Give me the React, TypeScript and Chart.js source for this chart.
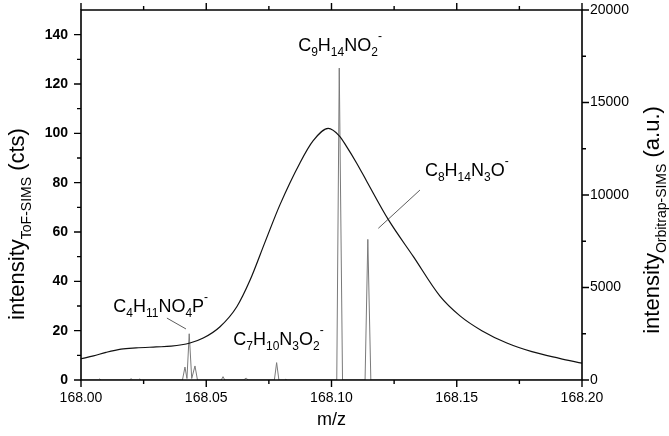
import React, { useEffect, useRef } from 'react';
import { Chart, registerables } from 'chart.js';
Chart.register(...registerables);

// ToF-SIMS broad peak (left axis, cts)
const TOF_MZ = [168.000, 168.005, 168.010, 168.016, 168.022, 168.030, 168.036, 168.0435, 168.0488, 168.0555, 168.0622, 168.0675, 168.0735, 168.0794, 168.0874, 168.0927, 168.0987, 168.1031, 168.1061, 168.1100, 168.1141, 168.1227, 168.1327, 168.1433, 168.1513, 168.160, 168.170, 168.180, 168.191, 168.200];
const TOF_INT = [8.6, 9.8, 11.2, 12.5, 13.0, 13.4, 13.7, 15.0, 17.0, 21.6, 29.7, 40.5, 56, 71, 88, 97, 102, 99, 94.5, 88, 80.5, 65, 50, 34, 26, 20, 15, 11.5, 8.8, 6.8];

// Orbitrap-SIMS spectrum (right axis, a.u.)
const ORB_MZ = [168.000, 168.0070, 168.0075, 168.0080, 168.0195, 168.0200, 168.0205, 168.0230, 168.0235, 168.0240,
  168.0405, 168.0415, 168.0423, 168.0432, 168.0442, 168.0455, 168.0465,
  168.0560, 168.0567, 168.0574, 168.0650, 168.0655, 168.0661, 168.0667,
  168.0772, 168.0781, 168.0790, 168.0814, 168.0818, 168.0822,
  168.1021, 168.1031, 168.1044, 168.1134, 168.1145, 168.1157, 168.200];
const ORB_INT = [0, 0, 60, 0, 0, 80, 0, 0, 60, 0,
  0, 700, 80, 2500, 80, 760, 0,
  0, 180, 0, 0, 80, 90, 0,
  0, 940, 0, 0, 50, 0,
  0, 16860, 0, 0, 7600, 0, 0];

// leader lines (left-axis units)
const LEAD_C4_MZ = [168.0343, 168.0419];
const LEAD_C4_INT = [25.1, 20.7];
const LEAD_C8_MZ = [168.1353, 168.1187];
const LEAD_C8_INT = [77, 61.5];

const X_TICKS = [168.0, 168.05, 168.1, 168.15, 168.2];
const X_MINOR = [168.025, 168.075, 168.125, 168.175];
const Y_TICKS = [0, 20, 40, 60, 80, 100, 120, 140];
const Y_MINOR = [10, 30, 50, 70, 90, 110, 130];
const Y2_TICKS = [0, 5000, 10000, 15000, 20000];
const Y2_MINOR = [2500, 7500, 12500, 17500];

type Part = [string, number]; // 0 normal, -1 sub, 1 sup
const LABELS: { parts: Part[]; mz: number; val: number }[] = [
  { parts: [['C', 0], ['9', -1], ['H', 0], ['14', -1], ['NO', 0], ['2', -1], ['-', 1]], mz: 168.0867, val: 133.5 },
  { parts: [['C', 0], ['8', -1], ['H', 0], ['14', -1], ['N', 0], ['3', -1], ['O', 0], ['-', 1]], mz: 168.1373, val: 82.7 },
  { parts: [['C', 0], ['4', -1], ['H', 0], ['11', -1], ['NO', 0], ['4', -1], ['P', 0], ['-', 1]], mz: 168.0129, val: 27.7 },
  { parts: [['C', 0], ['7', -1], ['H', 0], ['10', -1], ['N', 0], ['3', -1], ['O', 0], ['2', -1], ['-', 1]], mz: 168.0608, val: 14.2 },
];
const LEFT_TITLE: Part[] = [['intensity', 0], ['ToF-SIMS', -1], [' (cts)', 0]];
const RIGHT_TITLE: Part[] = [['intensity', 0], ['Orbitrap-SIMS', -1], [' (a.u.)', 0]];
const X_TITLE = 'm/z';

const FONT = '"Liberation Sans", Arial, sans-serif';

function measureParts(ctx: CanvasRenderingContext2D, parts: Part[], size: number, sub: number) {
  let w = 0;
  for (const [t, k] of parts) {
    ctx.font = `${k === 0 ? size : sub}px ${FONT}`;
    w += ctx.measureText(t).width;
  }
  return w;
}
function drawParts(ctx: CanvasRenderingContext2D, parts: Part[], x: number, y: number, size: number, sub: number) {
  let cx = x;
  ctx.textBaseline = 'alphabetic';
  ctx.textAlign = 'left';
  for (const [t, k] of parts) {
    ctx.font = `${k === 0 ? size : sub}px ${FONT}`;
    const dy = k === -1 ? size * 0.3 : k === 1 ? -size * 0.62 : 0;
    ctx.fillText(t, cx, y + dy);
    cx += ctx.measureText(t).width;
  }
}

const framePlugin = {
  id: 'frame',
  afterDraw(chart: any) {
    const { ctx, chartArea: a, scales } = chart;
    const x = scales.x, y = scales.y, y2 = scales.y2;
    ctx.save();
    ctx.strokeStyle = '#000';
    ctx.lineWidth = 1.6;
    ctx.beginPath();
    ctx.rect(a.left, a.top, a.right - a.left, a.bottom - a.top);
    ctx.stroke();
    const MAJ = 7, MIN = 4;
    ctx.lineWidth = 1.4;
    ctx.beginPath();
    const xt = (v: number, L: number) => {
      const p = x.getPixelForValue(v);
      ctx.moveTo(p, a.bottom); ctx.lineTo(p, a.bottom + L);
      ctx.moveTo(p, a.top); ctx.lineTo(p, a.top - L);
    };
    X_TICKS.forEach(v => xt(v, MAJ));
    X_MINOR.forEach(v => xt(v, MIN));
    const yt = (v: number, L: number) => {
      const p = y.getPixelForValue(v);
      ctx.moveTo(a.left, p); ctx.lineTo(a.left - L, p);
    };
    Y_TICKS.forEach(v => yt(v, MAJ));
    Y_MINOR.forEach(v => yt(v, MIN));
    const y2t = (v: number, L: number) => {
      const p = y2.getPixelForValue(v);
      ctx.moveTo(a.right, p); ctx.lineTo(a.right + L, p);
    };
    Y2_TICKS.forEach(v => y2t(v, MAJ));
    Y2_MINOR.forEach(v => y2t(v, MIN));
    ctx.stroke();

    ctx.fillStyle = '#000';
    for (const l of LABELS) {
      drawParts(ctx, l.parts, x.getPixelForValue(l.mz), y.getPixelForValue(l.val), 18, 12);
    }
    // titles
    const TS = 22, TSS = 14;
    let w = measureParts(ctx, LEFT_TITLE, TS, TSS);
    ctx.save();
    ctx.translate(24, 224);
    ctx.rotate(-Math.PI / 2);
    drawParts(ctx, LEFT_TITLE, -w / 2, 0, TS, TSS);
    ctx.restore();
    w = measureParts(ctx, RIGHT_TITLE, TS, TSS);
    ctx.save();
    ctx.translate(659, 220);
    ctx.rotate(-Math.PI / 2);
    drawParts(ctx, RIGHT_TITLE, -w / 2, 0, TS, TSS);
    ctx.restore();
    ctx.font = `18px ${FONT}`;
    ctx.textAlign = 'center';
    ctx.textBaseline = 'alphabetic';
    ctx.fillText(X_TITLE, (a.left + a.right) / 2, 425);
    ctx.restore();
  },
};

const noPadV = (s: any) => { s.paddingTop = 0; s.paddingBottom = 0; };
const noPadH = (s: any) => { s.paddingLeft = 0; s.paddingRight = 0; };
const GRID = { display: false, drawTicks: false };

export default function App() {
  const ref = useRef<HTMLCanvasElement>(null);
  useEffect(() => {
    document.body.style.margin = '0';
    const toXY = (xs: number[], ys: number[]) => xs.map((v, i) => ({ x: v, y: ys[i] }));
    const chart = new Chart(ref.current!, {
      type: 'line',
      data: {
        datasets: [
          { data: toXY(TOF_MZ, TOF_INT), yAxisID: 'y', borderColor: '#111', borderWidth: 1.2, pointRadius: 0, cubicInterpolationMode: 'monotone', order: 1 },
          { data: toXY(ORB_MZ, ORB_INT), yAxisID: 'y2', borderColor: '#7a7a7a', borderWidth: 1, pointRadius: 0, tension: 0, order: 2 },
          { data: toXY(LEAD_C4_MZ, LEAD_C4_INT), yAxisID: 'y', borderColor: '#333', borderWidth: 0.8, pointRadius: 0, order: 0 },
          { data: toXY(LEAD_C8_MZ, LEAD_C8_INT), yAxisID: 'y', borderColor: '#333', borderWidth: 0.8, pointRadius: 0, order: 0 },
        ],
      },
      options: {
        responsive: false,
        animation: false,
        parsing: false as any,
        normalized: true,
        layout: { padding: { top: 10, left: 0, right: 0, bottom: 0 } },
        plugins: { legend: { display: false }, tooltip: { enabled: false } },
        elements: { line: { fill: false } },
        scales: {
          x: {
            type: 'linear', position: 'bottom', min: 168.0, max: 168.2,
            grid: GRID, border: { display: false },
            afterBuildTicks: (s: any) => { s.ticks = X_TICKS.map(v => ({ value: v })); },
            afterFit: (s: any) => { s.height = 56; noPadH(s); },
            ticks: { padding: 10, color: '#000', font: { size: 14, family: FONT }, callback: (v: any) => Number(v).toFixed(2), maxRotation: 0 },
          },
          y: {
            type: 'linear', position: 'left', min: 0, max: 150,
            grid: GRID, border: { display: false },
            afterBuildTicks: (s: any) => { s.ticks = Y_TICKS.map(v => ({ value: v })); },
            afterFit: (s: any) => { s.width = 81; noPadV(s); },
            ticks: { padding: 13, color: '#000', font: { size: 14, family: FONT, weight: 'bold' } },
          },
          y2: {
            type: 'linear', position: 'right', min: 0, max: 20000,
            grid: GRID, border: { display: false },
            afterBuildTicks: (s: any) => { s.ticks = Y2_TICKS.map(v => ({ value: v })); },
            afterFit: (s: any) => { s.width = 87; noPadV(s); },
            ticks: { padding: 8, color: '#000', font: { size: 14, family: FONT }, callback: (v: any) => String(v) },
          },
        },
      },
      plugins: [framePlugin],
    });
    return () => chart.destroy();
  }, []);
  return (
    <div style={{ width: 669, height: 436, background: '#fff' }}>
      <canvas ref={ref} width={669} height={436} />
    </div>
  );
}
